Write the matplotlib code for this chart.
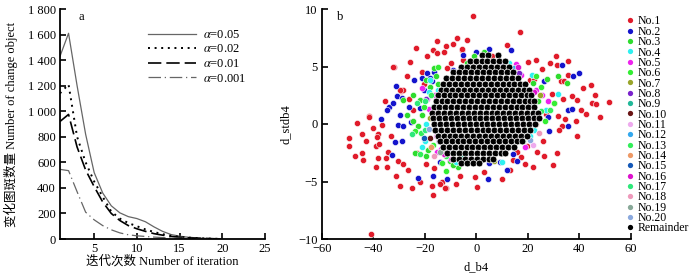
import numpy as np
import matplotlib
matplotlib.use('Agg')
import matplotlib.pyplot as plt
from matplotlib.lines import Line2D

plt.rcParams['font.family'] = ['Liberation Serif', 'Noto Sans CJK SC']
plt.rcParams['mathtext.fontset'] = 'stix'
plt.rcParams['font.size'] = 9

# ---- panel a : number of change objects vs iteration
iters = np.arange(1, 21)
n_005 = [1430, 1610, 1200, 820, 520, 360, 260, 205, 175, 160, 135, 95, 60, 35, 22, 14, 9, 5, 3, 2]
n_002 = [1140, 1210, 800, 600, 450, 330, 215, 160, 125, 100, 75, 55, 38, 25, 17, 11, 7, 4, 2, 1]
n_001 = [920, 975, 720, 540, 410, 290, 200, 145, 105, 80, 60, 42, 30, 20, 14, 9, 6, 4, 2, 1]
n_0001 = [545, 535, 370, 210, 150, 105, 72, 48, 33, 25, 20, 15, 11, 8, 6, 4, 3, 2, 1, 1]
alpha_labels = [r'$\alpha$=0.05', r'$\alpha$=0.02', r'$\alpha$=0.01', r'$\alpha$=0.001']
yticks_a = [0, 200, 400, 600, 800, 1000, 1200, 1400, 1600, 1800]
ytick_labels_a = ['0', '200', '400', '600', '800', '1 000', '1 200', '1 400', '1 600', '1 800']

# ---- panel b : scatter of d_b4 vs d_stdb4
no1 = [(-1.2, 9.4), (17.1, 8.0), (-15.1, 7.2), (-23.5, 6.6), (-16.7, 6.4), (-15.1, 6.2), (-11.9, 6.8),
       (-8.9, 7.0), (-7.6, 7.5), (-12.4, 6.3), (-25.7, 5.4), (-31.9, 5.0), (-9.8, 5.3), (-11.4, 4.9),
       (-5.4, 6.4), (-21.2, 4.5), (-29.2, 2.9), (-28.3, 3.0), (-41.6, 0.7), (-5.7, 6.5), (-5.0, 5.6),
       (6.0, 5.9), (9.2, 5.1), (20.2, 5.4), (23.2, 5.6), (30.9, 5.9), (35.5, 5.5), (31.2, 5.1),
       (32.7, 3.75), (34.0, 3.7), (29.2, 2.6), (41.3, 3.1), (44.5, 3.35), (46.0, 2.5), (51.6, 1.9),
       (37.0, 2.4), (38.9, 2.1), (33.8, 2.2), (44.8, 1.8), (46.5, 1.75), (40.6, 1.2), (31.6, 0.7),
       (48.0, 0.6), (30.0, 1.8), (27.0, 0.9), (20.8, 3.8), (22.5, 3.9), (35.7, 4.3), (33.1, -0.2),
       (34.5, 0.4), (32.2, -0.55), (26.0, -1.45), (23.4, -2.4), (26.3, -2.75), (31.4, -2.5),
       (18.9, -3.5), (22.1, -3.7), (29.9, -3.6), (10.1, -4.8), (-0.5, -4.6), (0.1, -5.5), (-6.3, -4.5),
       (-11.8, -5.6), (-13.5, -5.0), (17.0, -1.1), (19.5, -1.9), (15.9, -2.4), (17.5, -2.9),
       (14.4, -3.1), (-49.6, -1.9), (-44.5, -2.5), (-38.9, -1.9), (-37.7, -1.7), (-38.0, -0.9),
       (-44.1, -3.1), (-34.4, -2.4), (-35.0, -2.95), (-38.0, -2.95), (-38.9, -3.7), (-34.7, -3.7),
       (-30.5, -3.2), (-28.3, -3.5), (-26.6, -4.0), (-29.6, -5.4), (-25.1, -5.6), (-17.3, -5.4),
       (-16.7, -6.2), (-14.1, -5.2), (-12.1, -5.6), (-40.8, -9.6), (-19.6, -3.5), (-16.3, -3.8),
       (-23.1, -2.5), (-46.4, 0.1), (-41.5, 0.6), (-49.6, -1.2), (-44.5, -0.9), (-40.0, -0.35),
       (-36.7, -0.06), (-38.6, -1.1), (-32.2, 5.0), (-29.6, 3.0), (-24.4, 1.2), (-33.0, -1.0),
       (-26.0, 2.2), (-20.5, 3.5), (-35.5, 2.0), (-43.0, -1.5), (-47.0, -2.8), (-31.0, -4.5),
       (-22.0, -5.0), (-8.0, -5.2), (3.0, -4.2), (13.0, -4.0), (38.5, 0.3), (42.5, 0.9), (39.0, -1.0),
       (28.5, 5.3), (25.5, 4.8), (12.0, 6.9), (-3.5, 7.3), (-19.0, 5.9), (-27.0, 4.2)]
no2 = [(-0.2, 6.3), (-5.3, 6.0), (-9.2, 4.7), (-19.2, 4.4), (-21.2, 4.0), (-24.1, 3.8), (-17.4, 3.7),
       (-31.1, 3.3), (-30.6, 2.4), (-34.0, 1.5), (-34.5, 1.2), (-37.0, 0.4), (-26.0, 1.5), (-22.0, 1.4),
       (5.0, 6.5), (13.3, 6.4), (9.5, 5.4), (10.5, 4.8), (33.1, 5.1), (37.4, 4.2), (39.8, 4.4),
       (26.4, 3.7), (27.9, 0.6), (35.7, 1.2), (37.0, 1.3), (23.4, 1.0), (14.4, -2.6), (15.7, -3.2),
       (9.2, -3.3), (4.7, -4.8), (11.8, -4.0), (5.0, -3.4), (-11.5, -4.8), (35.7, -0.2), (28.0, -0.6),
       (-32.8, -2.7), (-31.5, -1.6), (-29.0, -1.5), (-22.5, -4.7), (-16.7, -4.5), (-14.0, -3.3),
       (-30.5, -0.06), (-28.3, -0.2), (-29.5, 0.8), (-25.5, 0.2), (-32.4, 1.8), (-28.9, 2.25),
       (-20.5, 3.0), (-18.0, 4.0), (-16.5, 4.5), (-13.0, 2.0)]
no3 = [(-16.4, 4.9), (-19.5, 3.8), (-24.6, 2.5), (-28.3, 2.1), (-22.0, 2.1), (-3.7, 5.3), (-14.7, 3.5),
       (31.8, 4.2), (35.0, 3.6), (27.5, 3.9), (-10.2, -3.2), (-7.0, -3.7), (-23.8, -2.5), (-19.6, -2.8),
       (-27.0, 0.8), (-24.5, 0.3), (-22.5, -0.2), (-18.0, 3.2), (-15.5, 4.2), (-21.0, 0.8),
       (-18.8, -2.3), (-9.0, -3.6), (22.0, 3.6), (24.0, 2.0), (-1.0, 5.9), (3.0, 6.3)]
no4 = [(13.7, 4.6), (21.5, 4.3), (31.6, 2.6), (27.0, 1.2), (-4.4, -2.7), (-1.5, -3.1), (21.0, -1.0),
       (22.5, -0.5), (-21.0, -2.0), (-18.5, 2.8), (-17.0, 1.5), (-15.0, 3.0), (12.5, 5.3), (-20.0, -1.5),
       (-19.5, 0.0), (-17.8, 3.8), (20.5, 3.0), (24.0, 0.4), (-8.0, -3.3), (10.0, -3.3)]
no5 = [(-21.2, 3.1), (-19.0, 2.2), (-16.0, 2.5), (15.4, 5.2), (23.2, 3.0), (27.9, 2.0), (-15.4, -2.4),
       (-13.8, -2.2), (-3.0, -3.0), (19.0, -2.0), (-18.5, 1.3), (17.5, 4.3), (25.5, 2.5), (-10.0, -3.0)]
no6 = [(-3.2, 4.8), (23.2, 4.2), (25.2, 3.2), (30.1, 1.8), (-3.6, -3.3), (-13.0, -2.2), (-13.4, -3.4),
       (-11.8, -4.1), (-23.8, -0.6), (-14.7, 5.0), (-20.5, 1.5), (-17.0, -1.8), (26.5, 0.3)]
no7 = [(24.7, 2.5), (-6.3, -3.0), (5.3, -3.0), (7.0, -3.2), (-18.0, 0.5)]
no8 = [(-19.5, 2.2), (-16.0, 1.0), (-14.5, -1.5), (2.5, 4.6), (16.7, 4.4), (-11.0, -2.2)]
no9 = [(-12.0, 3.2), (20.5, 2.2), (-5.0, -2.9)]
no10 = [(-18.0, -1.2), (-2.0, 5.5)]
no11 = [(-15.5, -1.0), (22.0, -1.8)]
no12 = [(14.5, 4.9), (-16.0, 0.0), (21.5, 1.8)]
no13 = [(28.6, 1.2), (25.0, 1.1), (-11.6, -2.8), (-22.0, -2.6), (-21.5, -0.8), (-17.5, 2.5)]
no14 = [(-17.5, -2.0), (23.0, 0.0)]
no15 = [(-20.5, -1.2), (18.5, 3.2)]
no16 = [(16.2, 5.0), (-12.5, -2.6), (22.5, 2.8)]
no17 = [(18.0, -1.5), (20.0, 1.0), (19.5, -0.5), (-23.0, 1.8), (-20.0, 2.0), (-25.0, -0.9), (-19.8, -0.5)]
no18 = [(-16.5, -2.8), (24.5, -0.8)]
no19 = [(-14.0, -2.4), (12.0, 5.0)]
no20 = [(-18.5, -0.4), (21.0, -1.4)]
classes = [no1, no2, no3, no4, no5, no6, no7, no8, no9, no10,
           no11, no12, no13, no14, no15, no16, no17, no18, no19, no20]
class_names = ['No.%d' % i for i in range(1, 21)]
class_colors = ['#e01b2a', '#1414cc', '#2edc2e', '#2ef0f0', '#ee22ee', '#33ee33', '#99a52a', '#7a22cc',
                '#22b899', '#6a1515', '#eeaaee', '#33a8ee', '#33ee5a', '#ee9966', '#1458b8', '#dd11cc',
                '#2ee87a', '#ee99bb', '#88a898', '#8aa8dd']

# remainder (dense black core), read row by row: (d_stdb4, [d_b4 ...])
rem_rows = [
    (6.0, [2.2, 4.6, 8.4]),
    (5.5, [-2.6, -0.3, 2.0, 4.3, 6.6, 8.9, 11.0]),
    (5.0, [-5.8, -3.5, -1.2, 1.1, 3.4, 5.7, 8.0, 10.3, 12.6]),
    (4.5, [-8.9, -6.6, -4.3, -2.0, 0.3, 2.6, 4.9, 7.2, 9.5, 11.8, 14.1]),
    (4.0, [-11.6, -9.3, -7.0, -4.7, -2.4, -0.1, 2.2, 4.5, 6.8, 9.1, 11.4, 13.7, 16.0]),
    (3.5, [-12.8, -10.5, -8.2, -5.9, -3.6, -1.3, 1.0, 3.3, 5.6, 7.9, 10.2, 12.5, 14.8, 17.1, 19.0]),
    (3.0, [-13.9, -11.6, -9.3, -7.0, -4.7, -2.4, -0.1, 2.2, 4.5, 6.8, 9.1, 11.4, 13.7, 16.0, 18.3, 20.3]),
    (2.5, [-15.0, -12.7, -10.4, -8.1, -5.8, -3.5, -1.2, 1.1, 3.4, 5.7, 8.0, 10.3, 12.6, 14.9, 17.2, 19.5, 21.3]),
    (2.0, [-15.8, -13.5, -11.2, -8.9, -6.6, -4.3, -2.0, 0.3, 2.6, 4.9, 7.2, 9.5, 11.8, 14.1, 16.4, 18.7, 21.0, 22.4]),
    (1.5, [-16.6, -14.3, -12.0, -9.7, -7.4, -5.1, -2.8, -0.5, 1.8, 4.1, 6.4, 8.7, 11.0, 13.3, 15.6, 17.9, 20.2, 22.5]),
    (1.0, [-17.1, -14.8, -12.5, -10.2, -7.9, -5.6, -3.3, -1.0, 1.3, 3.6, 5.9, 8.2, 10.5, 12.8, 15.1, 17.4, 19.7, 22.0, 24.0]),
    (0.5, [-16.8, -14.5, -12.2, -9.9, -7.6, -5.3, -3.0, -0.7, 1.6, 3.9, 6.2, 8.5, 10.8, 13.1, 15.4, 17.7, 20.0, 22.3, 24.4]),
    (0.0, [-16.4, -14.1, -11.8, -9.5, -7.2, -4.9, -2.6, -0.3, 2.0, 4.3, 6.6, 8.9, 11.2, 13.5, 15.8, 18.1, 20.4, 22.7]),
    (-0.5, [-16.0, -13.7, -11.4, -9.1, -6.8, -4.5, -2.2, 0.1, 2.4, 4.7, 7.0, 9.3, 11.6, 13.9, 16.2, 18.5, 20.8]),
    (-1.0, [-15.0, -12.7, -10.4, -8.1, -5.8, -3.5, -1.2, 1.1, 3.4, 5.7, 8.0, 10.3, 12.6, 14.9, 17.2, 19.5]),
    (-1.5, [-14.2, -11.9, -9.6, -7.3, -5.0, -2.7, -0.4, 1.9, 4.2, 6.5, 8.8, 11.1, 13.4, 15.7, 17.8]),
    (-2.0, [-13.0, -10.7, -8.4, -6.1, -3.8, -1.5, 0.8, 3.1, 5.4, 7.7, 10.0, 12.3, 14.6]),
    (-2.5, [-11.2, -8.9, -6.6, -4.3, -2.0, 0.3, 2.6, 4.9, 7.2, 9.5, 11.2]),
    (-3.0, [-9.0, -6.7, -4.4, -2.1, 0.2, 2.5, 4.8, 6.4]),
    (-3.4, [-6.0, -3.6, -1.3, 1.2]),
]

fig = plt.figure(figsize=(7, 2.8), dpi=100)
ax1 = fig.add_axes([60/700, 41/280, 205/700, 230/280])
ax2 = fig.add_axes([321.7/700, 41/280, 309.3/700, 230/280])

# Panel a
ax1.plot(iters, n_005, '-', color='#666666', lw=0.9, label=alpha_labels[0])
ax1.plot(iters, n_002, color='k', lw=1.4, linestyle=(0, (1, 2.4)), label=alpha_labels[1])
ax1.plot(iters, n_001, color='k', lw=1.2, linestyle=(0, (8, 3)), label=alpha_labels[2])
ax1.plot(iters, n_0001, color='#666666', lw=0.9, linestyle=(0, (10, 3, 1, 3)), label=alpha_labels[3])
ax1.set_xlim(1, 25)
ax1.set_ylim(0, 1800)
ax1.set_xticks([5, 10, 15, 20, 25])
ax1.set_yticks(yticks_a)
ax1.set_yticklabels(ytick_labels_a)
ax1.set_xlabel('迭代次数 Number of iteration', labelpad=0)
ax1.set_ylabel('变化图斑数量 Number of change object')
ax1.yaxis.set_label_coords(-0.205, 0.5)
ax1.text(0.102, 0.99, 'a', transform=ax1.transAxes, ha='center', va='top')
ax1.legend(loc='upper left', bbox_to_anchor=(148/700, 1 - 29/280), bbox_transform=fig.transFigure,
           frameon=False, handlelength=3.85, handletextpad=0.55, labelspacing=0.2,
           borderpad=0, borderaxespad=0)

# Panel b
for pts, name, col in zip(classes, class_names, class_colors):
    xs = [p[0] for p in pts]
    ys = [p[1] for p in pts]
    ax2.scatter(xs, ys, s=20, color=col, edgecolors='white', linewidths=0.4, zorder=2)
rem_x = [x for y, row in rem_rows for x in row]
rem_y = [y for y, row in rem_rows for x in row]
ax2.scatter(rem_x, rem_y, s=24, color='k', edgecolors='white', linewidths=0.5, zorder=3)
ax2.set_xlim(-60, 60)
ax2.set_ylim(-10, 10)
ax2.set_xticks([-60, -40, -20, 0, 20, 40, 60])
ax2.set_yticks([-10, -5, 0, 5, 10])
ax2.set_xlabel('d_b4', labelpad=4)
ax2.set_ylabel('d_stdb4')
ax2.yaxis.set_label_coords(-0.096, 0.5)
ax2.text(0.059, 0.99, 'b', transform=ax2.transAxes, ha='center', va='top')

handles = [Line2D([], [], marker='o', ls='none', markersize=3.8, markerfacecolor=c, markeredgewidth=0)
           for c in class_colors]
handles.append(Line2D([], [], marker='o', ls='none', markersize=3.8, markerfacecolor='k', markeredgewidth=0))
fig.legend(handles, class_names + ['Remainder'], loc='upper left',
           bbox_to_anchor=(626.7/700, 1 - 15.5/280), frameon=False, fontsize=8.5,
           handlelength=0.6, handletextpad=0.3, labelspacing=-0.14, borderpad=0, borderaxespad=0)

for ax in (ax1, ax2):
    for s in ('top', 'right'):
        ax.spines[s].set_visible(False)
    for s in ('left', 'bottom'):
        ax.spines[s].set_linewidth(1.3)
    ax.tick_params(direction='in', length=4, width=1.2, labelsize=9, pad=3)

fig.savefig('out.png', dpi=100)
